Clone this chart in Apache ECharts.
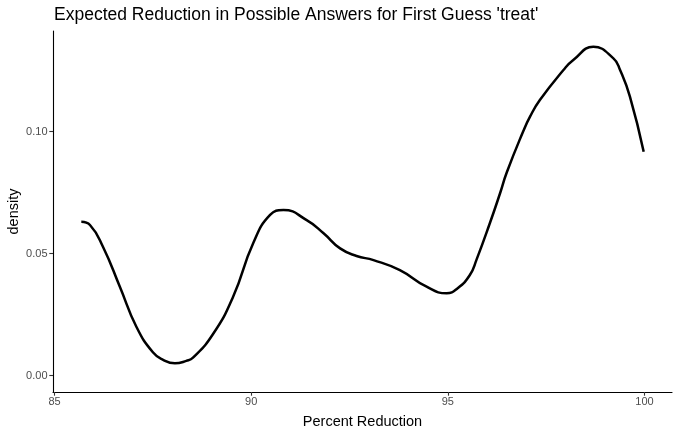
<!DOCTYPE html>
<html>
<head>
<meta charset="utf-8">
<script src="https://cdn.jsdelivr.net/npm/echarts@6/dist/echarts.min.js"></script>
<style>
html,body{margin:0;padding:0;background:#fff;}
#c{width:679px;height:434px;}
</style>
</head>
<body>
<div id="c"></div>
<script>
var xValues = [85.68, 85.90, 86.23, 86.66, 87.08, 87.50, 87.76, 88.06, 88.35, 88.52, 89.03, 89.54, 90.05, 90.48, 90.82, 91.41, 91.84, 92.26, 92.68, 93.11, 93.78, 94.46, 94.97, 95.25, 95.56, 95.73, 96.07, 96.33, 96.50, 96.92, 97.09, 97.34, 97.94, 98.19, 98.70, 99.21, 99.38, 99.63, 99.98];
var densityValues = [0.0630, 0.0617, 0.0528, 0.0364, 0.0200, 0.0095, 0.0064, 0.0050, 0.0060, 0.0073, 0.0170, 0.0323, 0.0542, 0.0658, 0.0678, 0.0637, 0.0583, 0.0521, 0.0490, 0.0473, 0.0432, 0.0364, 0.0337, 0.0358, 0.0412, 0.0475, 0.0625, 0.0748, 0.0833, 0.1002, 0.1061, 0.1129, 0.1252, 0.1293, 0.1347, 0.1300, 0.1252, 0.1143, 0.0917];
var xTicks = [85, 90, 95, 100];
var yTicks = [0.00, 0.05, 0.10];

var points = xValues.map(function (x, i) { return [x, densityValues[i]]; });
var font = 'Liberation Sans, Arial, Helvetica, sans-serif';

var chart = echarts.init(document.getElementById('c'), null, {renderer: 'canvas'});
chart.setOption({
  animation: false,
  backgroundColor: '#ffffff',
  title: {
    text: "Expected Reduction in Possible Answers for First Guess 'treat'",
    left: 49,
    top: 1,
    textStyle: {fontFamily: font, fontSize: 17.5, fontWeight: 'normal', color: '#000000'}
  },
  grid: {left: 53, right: 7, top: 31, bottom: 42, containLabel: false, outerBoundsMode: 'none'},
  xAxis: {
    type: 'value',
    min: 84.96,
    max: 100.70,
    name: 'Percent Reduction',
    nameLocation: 'middle',
    nameGap: 22,
    nameMoveOverlap: false,
    nameTextStyle: {fontFamily: font, fontSize: 14.5, color: '#000000', verticalAlign: 'top'},
    axisLine: {show: true, onZero: false, lineStyle: {color: '#000000', width: 1.1}},
    axisTick: {show: true, length: 3.7, lineStyle: {color: '#333333', width: 1.1},
      customValues: xTicks},
    axisLabel: {fontFamily: font, fontSize: 11, color: '#4D4D4D', margin: 4,
      customValues: xTicks,
      formatter: function (v) { return String(Math.round(v)); }},
    splitLine: {show: false}
  },
  yAxis: {
    type: 'value',
    min: -0.00676,
    max: 0.1412,
    name: 'density',
    nameLocation: 'middle',
    nameGap: 32,
    nameMoveOverlap: false,
    nameRotate: 90,
    nameTextStyle: {fontFamily: font, fontSize: 14.5, color: '#000000'},
    axisLine: {show: true, onZero: false, lineStyle: {color: '#000000', width: 1.1}},
    axisTick: {show: true, length: 3.7, lineStyle: {color: '#333333', width: 1.1},
      customValues: yTicks},
    axisLabel: {fontFamily: font, fontSize: 11, color: '#4D4D4D', margin: 5.5,
      customValues: yTicks,
      formatter: function (v) { return v.toFixed(2); }},
    splitLine: {show: false}
  },
  series: [{
    type: 'line',
    data: points,
    smooth: 0.5,
    showSymbol: false,
    symbol: 'none',
    lineStyle: {color: '#000000', width: 2.5},
    clip: false
  }]
});
</script>
</body>
</html>
